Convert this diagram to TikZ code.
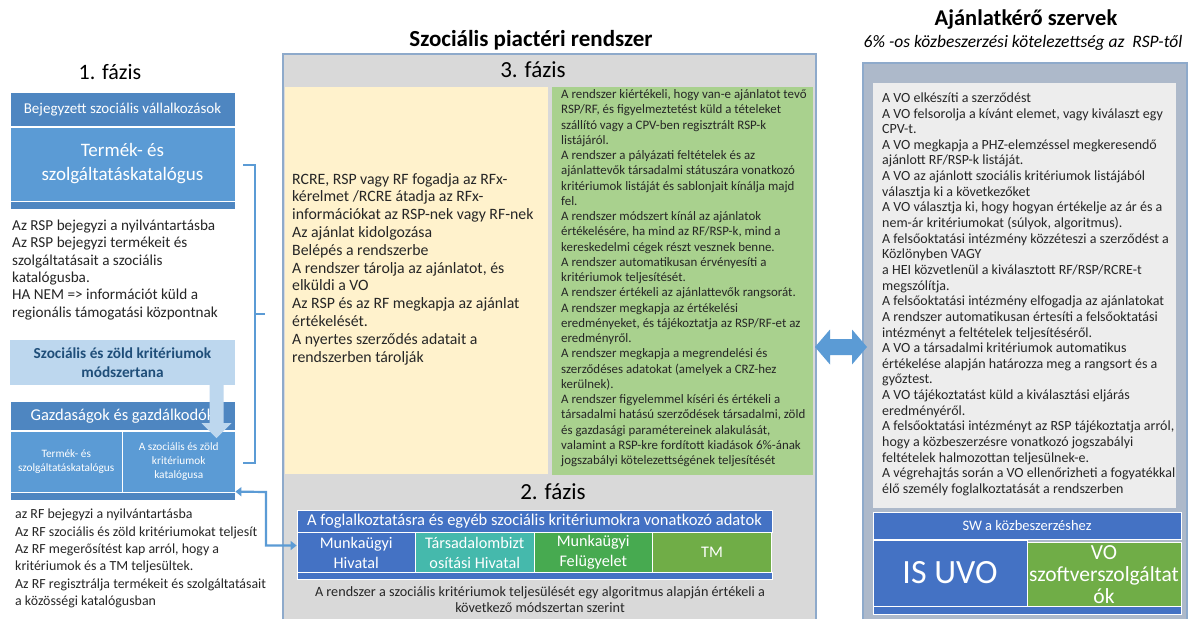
\documentclass[tikz,border=0pt]{standalone}
\usepackage{fontspec}
\setmainfont{Carlito}
\newcommand\fsz[2]{\fontsize{#1}{#2}\selectfont}
\definecolor{dkblue}{HTML}{4E86C1}
\definecolor{mdblue}{HTML}{5B9BD5}
\definecolor{ltblue}{HTML}{BDD7EE}
\definecolor{navy}{HTML}{1F4E79}
\definecolor{royal}{HTML}{4472C4}
\definecolor{teal2}{HTML}{45B9AC}
\definecolor{grn2}{HTML}{47AA50}
\definecolor{grn}{HTML}{70AD47}
\definecolor{yel}{HTML}{FFF2CC}
\definecolor{lgrn}{HTML}{A9D18E}
\definecolor{panel}{HTML}{D9D9D9}
\definecolor{panelb}{HTML}{8EAACB}
\definecolor{rpanel}{HTML}{ADB9CA}
\definecolor{inner}{HTML}{EDEDED}
\definecolor{txt}{HTML}{262626}
\usetikzlibrary{arrows.meta}
\begin{document}
\begin{tikzpicture}[x=1pt,y=-1pt,
  box/.style={draw=white, line width=0.8pt, inner sep=0pt, align=center, text=white},
  plain/.style={inner sep=0pt, align=left, text=txt, anchor=north west},
  title/.style={inner sep=0pt, text=black},
  conn/.style={draw=mdblue, line width=2.2pt, {Triangle[width=9pt,length=6pt]}-{Triangle[width=9pt,length=6pt]}},
]
\useasboundingbox (0,0) rectangle (1195,619);
\fill[white] (0,0) rectangle (1195,619);

% ---------------- Phase 1 (left) ----------------
\node[title, font={\fsz{22}{26}}] (ph1) at (110,72) {1. fázis};
\node[box, fill=dkblue, minimum width=225, minimum height=34, font={\fsz{15}{17}}] (bsv) at (122.5,109.5) {Bejegyzett szociális vállalkozások};
\node[box, fill=mdblue, minimum width=225, minimum height=74, font={\fsz{19}{24}}] (tsk) at (122.5,164) {Termék- és\\szolgáltatáskatalógus};
\node[box, fill=dkblue, minimum width=225, minimum height=8] (st1) at (122.5,205.5) {};
\node[plain, font={\fsz{15.2}{17.4}}] (lt1) at (12,219.5) {Az RSP bejegyzi a nyilvántartásba\\Az RSP bejegyzi termékeit és\\szolgáltatásait a szociális\\katalógusba.\\HA NEM => információt küld a\\regionális támogatási központnak};

\node[inner sep=0pt, fill=ltblue, minimum width=225, minimum height=45, align=center, text=navy, font={\bfseries\fsz{15.3}{19}}] (mod) at (122.5,362.5) {Szociális és zöld kritériumok\\módszertana};

\node[box, fill=dkblue, minimum width=225, minimum height=29, font={\fsz{16.5}{20}}] (gaz) at (122.5,416) {Gazdaságok és gazdálkodók};
\node[box, fill=mdblue, minimum width=112.5, minimum height=61, font={\fsz{11.3}{14}}] (kat1) at (66.25,461.5) {Termék- és\\szolgáltatáskatalógus};
\node[box, fill=mdblue, minimum width=112.5, minimum height=61, font={\fsz{11.3}{14}}] (kat2) at (178.75,461.5) {A szociális és zöld\\kritériumok\\katalógusa};
\node[box, fill=dkblue, minimum width=225, minimum height=8] (st2) at (122.5,496) {};
\node[plain, font={\fsz{13.9}{17.3}}] (lt2) at (15,509) {az RF bejegyzi a nyilvántartásba\\Az RF szociális és zöld kritériumokat teljesít\\Az RF megerősítést kap arról, hogy a\\kritériumok és a TM teljesültek.\\Az RF regisztrálja termékeit és szolgáltatásait\\a közösségi katalógusban};

% down block arrow from methodology box
\fill[ltblue] ([xshift=87pt]mod.south) -- ++(14,0) -- ++(0,38) -- ++(8,0) -- ++(-15,15) -- ++(-15,-15) -- ++(8,0) -- cycle;

% bracket
\draw[mdblue, line width=2.8pt] (243,165) -- (255,165) -- (255,463) -- (243,463);
\draw[mdblue, line width=2.8pt] (255,314) -- (265,314);

% ---------------- Middle panel ----------------
\node[title, font={\bfseries\fsz{23}{27}}] (mtitle) at (531,40) {Szociális piactéri rendszer};
\fill[panel] (283,54) rectangle (816,619);
\draw[panelb, line width=1.4pt] (283,619) -- (283,54) -- (816,54) -- (816,619);
\node[title, font={\fsz{23}{26}}] (ph3) at (533,70) {3. fázis};
\node[inner sep=0pt, fill=yel, minimum width=263, minimum height=387] (yb) at (416.5,280.5) {};
\node[inner sep=0pt, fill=lgrn, minimum width=261, minimum height=388] (gb) at (682.5,281) {};
\node[plain, font={\fsz{15.8}{17.8}}] (yt) at (292,173) {RCRE, RSP vagy RF fogadja az RFx-\\kérelmet /RCRE átadja az RFx-\\információkat az RSP-nek vagy RF-nek\\Az ajánlat kidolgozása\\Belépés a rendszerbe\\A rendszer tárolja az ajánlatot, és\\elküldi a VO\\Az RSP és az RF megkapja az ajánlat\\értékelését.\\A nyertes szerződés adatait a\\rendszerben tárolják};
\node[plain, font={\fsz{12.9}{15.25}}] (gt) at (561,89.5) {A rendszer kiértékeli, hogy van-e ajánlatot tevő\\RSP/RF, és figyelmeztetést küld a tételeket\\szállító vagy a CPV-ben regisztrált RSP-k\\listájáról.\\A rendszer a pályázati feltételek és az\\ajánlattevők társadalmi státuszára vonatkozó\\kritériumok listáját és sablonjait kínálja majd\\fel.\\A rendszer módszert kínál az ajánlatok\\értékelésére, ha mind az RF/RSP-k, mind a\\kereskedelmi cégek részt vesznek benne.\\A rendszer automatikusan érvényesíti a\\kritériumok teljesítését.\\A rendszer értékeli az ajánlattevők rangsorát.\\A rendszer megkapja az értékelési\\eredményeket, és tájékoztatja az RSP/RF-et az\\eredményről.\\A rendszer megkapja a megrendelési és\\szerződéses adatokat (amelyek a CRZ-hez\\kerülnek).\\A rendszer figyelemmel kíséri és értékeli a\\társadalmi hatású szerződések társadalmi, zöld\\és gazdasági paramétereinek alakulását,\\valamint a RSP-kre fordított kiadások 6\%-ának\\jogszabályi kötelezettségének teljesítését};

\node[title, font={\fsz{23}{26}}] (ph2) at (553,492) {2. fázis};
\node[box, fill=royal, minimum width=475, minimum height=22, font={\fsz{16.5}{18}}] (hdr) at (534.5,521) {A foglalkoztatásra és egyéb szociális kritériumokra vonatkozó adatok};
\node[box, fill=royal, minimum width=118.5, minimum height=40, font={\fsz{16.2}{20}}] (mh) at (356.25,552.5) {Munkaügyi\\Hivatal};
\node[box, fill=teal2, minimum width=118.5, minimum height=40, font={\fsz{16.2}{20}}] (th) at (474.75,552.5) {Társadalombizt\\osítási Hivatal};
\node[box, fill=grn2, minimum width=118.5, minimum height=40, font={\fsz{16.2}{20}}] (mf) at (593.25,552.5) {Munkaügyi\\Felügyelet};
\node[box, fill=grn, minimum width=119.5, minimum height=40, font={\fsz{16.2}{20}}] (tm) at (712,552.5) {TM};
\node[box, fill=royal, minimum width=475, minimum height=7] (st3) at (534.5,576) {};
\node[inner sep=0pt, align=center, text=txt, font={\fsz{14.2}{15.5}}] (bt) at (540,599.5) {A rendszer a szociális kritériumok teljesülését egy algoritmus alapján értékeli a\\következő módszertan szerint};

% elbow connector phase 2 -> phase 1
\draw[conn] (st2.north east) -- (266,492) |- ([yshift=7pt]mh.west);

% ---------------- Right panel ----------------
\node[title, font={\bfseries\fsz{22.5}{26}}] (rtitle) at (1026,20) {Ajánlatkérő szervek};
\node[title, font={\itshape\fsz{17.5}{20}}] (rsub) at (1023,43) {6\% -os közbeszerzési kötelezettség az\ \ RSP-től};
\fill[rpanel] (863,63) rectangle (1187,619);
\draw[panelb, line width=1.2pt] (863,619) -- (863,63) -- (1187,63) -- (1187,619);
\node[inner sep=0pt, fill=inner, minimum width=303, minimum height=425] (ib) at (1024.5,295.5) {};
\node[plain, font={\fsz{14}{15.64}}] (rt) at (882,92.5) {A VO elkészíti a szerződést\\A VO felsorolja a kívánt elemet, vagy kiválaszt egy\\CPV-t.\\A VO megkapja a PHZ-elemzéssel megkeresendő\\ajánlott RF/RSP-k listáját.\\A VO az ajánlott szociális kritériumok listájából\\választja ki a következőket\\A VO választja ki, hogy hogyan értékelje az ár és a\\nem-ár kritériumokat (súlyok, algoritmus).\\A felsőoktatási intézmény közzéteszi a szerződést a\\Közlönyben VAGY\\a HEI közvetlenül a kiválasztott RF/RSP/RCRE-t\\megszólítja.\\A felsőoktatási intézmény elfogadja az ajánlatokat\\A rendszer automatikusan értesíti a felsőoktatási\\intézményt a feltételek teljesítéséről.\\A VO a társadalmi kritériumok automatikus\\értékelése alapján határozza meg a rangsort és a\\győztest.\\A VO tájékoztatást küld a kiválasztási eljárás\\eredményéről.\\A felsőoktatási intézményt az RSP tájékoztatja arról,\\hogy a közbeszerzésre vonatkozó jogszabályi\\feltételek halmozottan teljesülnek-e.\\A végrehajtás során a VO ellenőrizheti a fogyatékkal\\élő személy foglalkoztatását a rendszerben};
\node[box, fill=royal, minimum width=308, minimum height=27, font={\fsz{14.5}{17}}] (sw) at (1027,525.5) {SW a közbeszerzéshez};
\node[box, fill=royal, minimum width=154, minimum height=66, font={\fsz{34}{36}}] (isuvo) at (950,573) {IS UVO};
\node[box, fill=grn, minimum width=154, minimum height=66, font={\fsz{21.5}{22}}] (vosz) at (1104,575) {VO\\szoftverszolgáltat\\ók};
\node[box, fill=royal, minimum width=308, minimum height=8] (st4) at (1027,610) {};

% double block arrow between middle and right panel
\fill[mdblue] (815,347) -- (830,329.5) -- (830,339) -- (852,339) -- (852,329.5) -- (867,347) -- (852,364.5) -- (852,355) -- (830,355) -- (830,364.5) -- cycle;
\end{tikzpicture}
\end{document}
